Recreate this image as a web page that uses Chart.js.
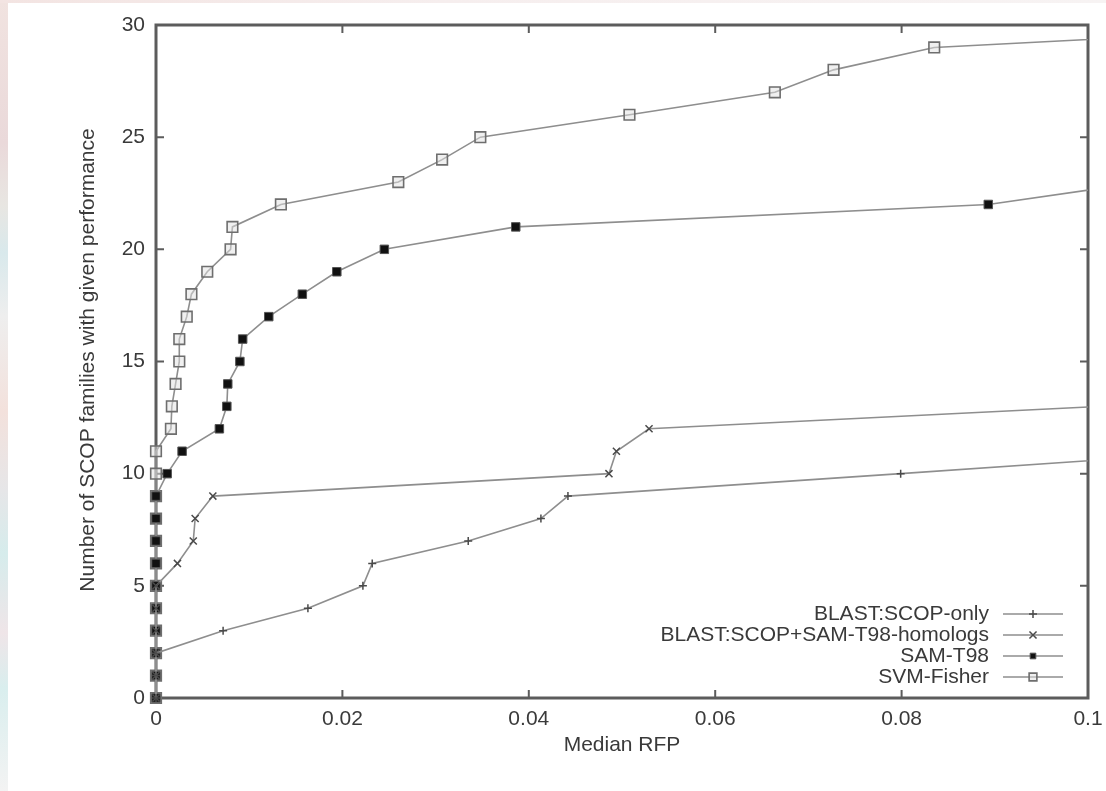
<!DOCTYPE html>
<html>
<head>
<meta charset="utf-8">
<script src="https://cdn.jsdelivr.net/npm/chart.js@4.4.1/dist/chart.umd.min.js"></script>
<style>
  html, body { margin: 0; padding: 0; background: #fff; }
  body { width: 1106px; height: 791px; position: relative; overflow: hidden; }
  .edge-left {
    position: absolute; left: 0; top: 0; width: 8px; height: 791px;
    background: linear-gradient(to bottom, #f1e3e0 0%, #ead9da 18%, #e8e6e2 26%, #d9e9ec 32%, #eeeeee 40%, #f3e1dc 52%, #e6e6e8 62%, #d6ecec 70%, #efe5e8 80%, #d9eeee 87%, #f3f3f3 100%);
  }
  .edge-top {
    position: absolute; left: 0; top: 0; width: 1106px; height: 3px;
    background: linear-gradient(to right, #f3e4e2, #f6eeee 40%, #f7f3f3);
  }
  #chart { position: absolute; left: 0; top: 0; filter: blur(0.4px); }
</style>
</head>
<body>
<div class="edge-left"></div>
<div class="edge-top"></div>
<canvas id="chart" width="1106" height="791"></canvas>
<script>
// tick values and labels
const xTicks = [0, 0.02, 0.04, 0.06, 0.08, 0.1];
const xTickLabels = ['0', '0.02', '0.04', '0.06', '0.08', '0.1'];
const yTicks = [0, 5, 10, 15, 20, 25, 30];
const yTickLabels = ['0', '5', '10', '15', '20', '25', '30'];

const seriesNames = ['BLAST:SCOP-only', 'BLAST:SCOP+SAM-T98-homologs', 'SAM-T98', 'SVM-Fisher'];

// BLAST:SCOP-only  (median RFP, number of families)
const blastX = [0, 0, 0, 0.0072, 0.0163, 0.0222, 0.0232, 0.0335, 0.0413, 0.0442, 0.0799, 0.115];
const blastY = [0, 1, 2, 3, 4, 5, 6, 7, 8, 9, 10, 11];

// BLAST:SCOP+SAM-T98-homologs
const homX = [0, 0, 0, 0, 0, 0, 0.0023, 0.0040, 0.0042, 0.0061, 0.0486, 0.0494, 0.0529, 0.1015];
const homY = [0, 1, 2, 3, 4, 5, 6, 7, 8, 9, 10, 11, 12, 13];

// SAM-T98
const samX = [0, 0, 0, 0, 0, 0, 0, 0, 0, 0, 0.0012, 0.0028, 0.0068, 0.0076, 0.0077, 0.0090, 0.0093,
  0.0121, 0.0157, 0.0194, 0.0245, 0.0386, 0.0893, 0.106];
const samY = [0, 1, 2, 3, 4, 5, 6, 7, 8, 9, 10, 11, 12, 13, 14, 15, 16, 17, 18, 19, 20, 21, 22, 23];

// SVM-Fisher
const svmX = [0, 0, 0, 0, 0, 0, 0, 0, 0, 0, 0, 0, 0.0016, 0.0017, 0.0021, 0.0025, 0.0025, 0.0033,
  0.0038, 0.0055, 0.0080, 0.0082, 0.0134, 0.0260, 0.0307, 0.0348, 0.0508, 0.0664, 0.0727, 0.0835, 0.13];
const svmY = [0, 1, 2, 3, 4, 5, 6, 7, 8, 9, 10, 11, 12, 13, 14, 15, 16, 17, 18, 19, 20, 21, 22, 23,
  24, 25, 26, 27, 28, 29, 30];

const FONT = '"Liberation Sans", Arial, Helvetica, sans-serif';
const TEXT = '#3a3a3a';
const FRAME = '#5c5c5c';
const LINE = '#8e8e8e';

function pairs(xs, ys) {
  return xs.map(function(x, i) { return { x: x, y: ys[i] }; });
}

const clipBox = { left: 12, top: 6, right: 0, bottom: 12 };

const datasets = [
  {
    label: seriesNames[0],
    data: pairs(blastX, blastY),
    borderColor: LINE,
    borderWidth: 1.6,
    pointStyle: 'cross',
    pointRadius: 4,
    pointBorderColor: '#4a4a4a',
    pointBorderWidth: 1.5,
    pointBackgroundColor: '#4a4a4a',
  },
  {
    label: seriesNames[1],
    data: pairs(homX, homY),
    borderColor: LINE,
    borderWidth: 1.6,
    pointStyle: 'crossRot',
    pointRadius: 5,
    pointBorderColor: '#4a4a4a',
    pointBorderWidth: 1.5,
    pointBackgroundColor: '#4a4a4a',
  },
  {
    label: seriesNames[2],
    data: pairs(samX, samY),
    borderColor: LINE,
    borderWidth: 1.6,
    pointStyle: 'rect',
    pointRadius: 6,
    pointBorderColor: '#555',
    pointBorderWidth: 1,
    pointBackgroundColor: '#111',
  },
  {
    label: seriesNames[3],
    data: pairs(svmX, svmY),
    borderColor: LINE,
    borderWidth: 1.6,
    pointStyle: 'rect',
    pointRadius: 7.5,
    pointBorderColor: '#6e6e6e',
    pointBorderWidth: 1.6,
    pointBackgroundColor: 'rgba(225,225,225,0.5)',
  }
];
datasets.forEach(function(d) {
  d.tension = 0;
  d.fill = false;
  d.clip = clipBox;
  d.pointHoverRadius = d.pointRadius;
});

// frame with inward ticks on all four sides (gnuplot style)
const framePlugin = {
  id: 'frame',
  beforeDatasetsDraw(chart) {
    const ctx = chart.ctx;
    const a = chart.chartArea;
    const xs = chart.scales.x;
    const ys = chart.scales.y;
    ctx.save();
    ctx.strokeStyle = FRAME;
    ctx.lineWidth = 3;
    ctx.strokeRect(a.left, a.top, a.right - a.left, a.bottom - a.top);
    ctx.lineWidth = 2;
    const len = 8;
    ctx.beginPath();
    xTicks.forEach(function(v) {
      const px = xs.getPixelForValue(v);
      ctx.moveTo(px, a.bottom); ctx.lineTo(px, a.bottom - len);
      ctx.moveTo(px, a.top); ctx.lineTo(px, a.top + len);
    });
    yTicks.forEach(function(v) {
      const py = ys.getPixelForValue(v);
      ctx.moveTo(a.left, py); ctx.lineTo(a.left + len, py);
      ctx.moveTo(a.right, py); ctx.lineTo(a.right - len, py);
    });
    ctx.stroke();
    ctx.restore();
  },
  afterDraw(chart) {
    const ctx = chart.ctx;
    ctx.save();
    ctx.fillStyle = TEXT;
    ctx.font = '21px ' + FONT;
    ctx.textAlign = 'center';
    ctx.textBaseline = 'middle';
    ctx.fillText('Median RFP', 622, 745);
    ctx.translate(88, 360);
    ctx.rotate(-Math.PI / 2);
    ctx.fillText('Number of SCOP families with given performance', 0, 0);
    ctx.restore();
  }
};

// legend in the lower right, text right-aligned, sample on the right
const keyPlugin = {
  id: 'key',
  afterDatasetsDraw(chart) {
    const ctx = chart.ctx;
    const textRight = 989;
    const x0 = 1003, x1 = 1063;
    const rowY = [614, 635, 656, 677];
    ctx.save();
    chart.data.datasets.forEach(function(ds, i) {
      const y = rowY[i];
      ctx.fillStyle = TEXT;
      ctx.font = '21px ' + FONT;
      ctx.textAlign = 'right';
      ctx.textBaseline = 'middle';
      ctx.fillText(ds.label, textRight, y);
      ctx.strokeStyle = ds.borderColor;
      ctx.lineWidth = ds.borderWidth;
      ctx.beginPath();
      ctx.moveTo(x0, y); ctx.lineTo(x1, y);
      ctx.stroke();
      ctx.fillStyle = ds.pointBackgroundColor;
      ctx.strokeStyle = ds.pointBorderColor;
      ctx.lineWidth = ds.pointBorderWidth;
      Chart.helpers.drawPoint(ctx, {
        pointStyle: ds.pointStyle,
        radius: ds.pointStyle === 'rect' ? ds.pointRadius - 2 : ds.pointRadius,
        rotation: 0,
        borderWidth: ds.pointBorderWidth
      }, (x0 + x1) / 2, y);
    });
    ctx.restore();
  }
};

new Chart(document.getElementById('chart'), {
  type: 'line',
  data: { datasets: datasets },
  options: {
    responsive: false,
    animation: false,
    events: [],
    layout: { padding: { left: 0, top: 25, right: 18, bottom: 0 } },
    plugins: {
      legend: { display: false },
      tooltip: { enabled: false }
    },
    scales: {
      x: {
        type: 'linear',
        min: 0,
        max: 0.1,
        grid: { display: false, drawTicks: false },
        border: { display: false },
        afterBuildTicks(scale) { scale.ticks = xTicks.map(function(v) { return { value: v }; }); },
        afterFit(scale) {
          scale.height = 93;
          scale.paddingLeft = 0;
          scale.paddingRight = 0;
        },
        ticks: {
          padding: 9,
          color: TEXT,
          font: { family: FONT, size: 21 },
          maxRotation: 0,
          autoSkip: false,
          callback: function(value, index) { return xTickLabels[index]; }
        }
      },
      y: {
        type: 'linear',
        min: 0,
        max: 30,
        grid: { display: false, drawTicks: false },
        border: { display: false },
        afterBuildTicks(scale) { scale.ticks = yTicks.map(function(v) { return { value: v }; }); },
        afterFit(scale) {
          scale.width = 156;
          scale.paddingTop = 0;
          scale.paddingBottom = 0;
        },
        ticks: {
          padding: 11,
          color: TEXT,
          font: { family: FONT, size: 21 },
          autoSkip: false,
          callback: function(value, index) { return yTickLabels[index]; }
        }
      }
    }
  },
  plugins: [framePlugin, keyPlugin]
});
</script>
</body>
</html>
